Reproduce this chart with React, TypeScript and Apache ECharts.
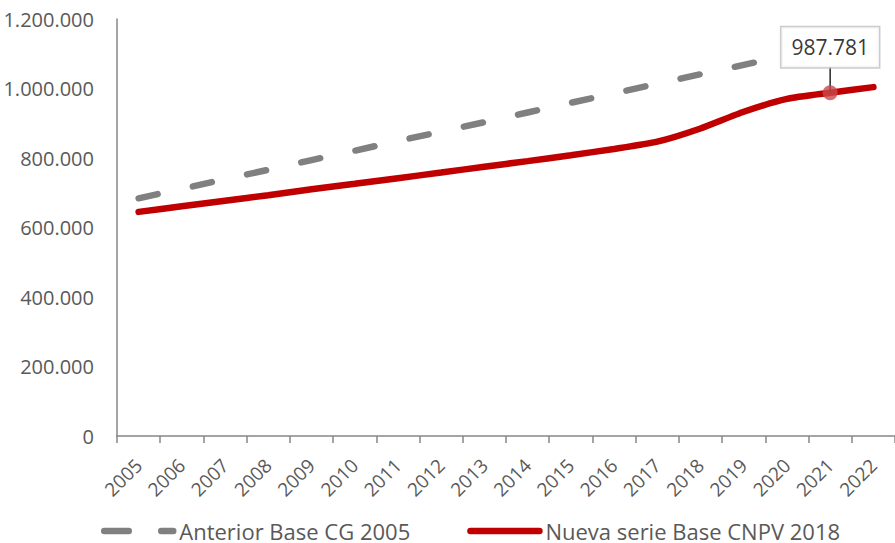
import React, { useEffect, useRef } from "react";
import * as echarts from "echarts";

const years = ["2005","2006","2007","2008","2009","2010","2011","2012","2013","2014","2015","2016","2017","2018","2019","2020","2021","2022"];
const anteriorValues = [684000, 711000, 739000, 766000, 794000, 821000, 849000, 876000, 903000, 931000, 959000, 986000, 1014000, 1041000, 1068000, 1095000, null, null];
const nuevaValues = [645000, 661000, 677000, 693000, 710000, 726000, 742000, 758000, 775000, 791000, 808000, 826000, 847000, 885000, 933000, 970000, 987781, 1004000];
const highlightIndex = 16;
const yTicks = [0, 200000, 400000, 600000, 800000, 1000000, 1200000];

const fmt = (v: number) => String(Math.round(v)).replace(/\B(?=(\d{3})+(?!\d))/g, ".");

export default function App() {
  const ref = useRef<HTMLDivElement>(null);
  useEffect(() => {
    if (!ref.current) return;
    const chart = echarts.init(ref.current, null, { renderer: "svg" });
    const font = "'Open Sans', sans-serif";
    const highlightData = years.map((_, i) => (i === highlightIndex ? nuevaValues[i] : null));
    chart.setOption({
      animation: false,
      textStyle: { fontFamily: font },
      grid: { left: 117, right: 0, top: 19, bottom: 107, containLabel: false },
      legend: {
        left: 101,
        top: 520,
        padding: 0,
        itemWidth: 69,
        itemHeight: 14,
        itemGap: 57,
        textStyle: { fontSize: 22, lineHeight: 22, color: "#595959", fontFamily: font, padding: [0, 0, 0, 1] },
        data: [
          { name: "Anterior Base CG 2005", itemStyle: { opacity: 0, color: "transparent" }, lineStyle: { width: 6.5, type: [24.5, 32.5], cap: "round", color: "#808080" } },
          { name: "Nueva serie Base CNPV 2018", itemStyle: { opacity: 0, color: "transparent" }, lineStyle: { width: 6.5, cap: "round", color: "#C00000" } },
        ],
      },
      xAxis: {
        type: "category",
        data: years,
        boundaryGap: true,
        axisLine: { lineStyle: { color: "#878787", width: 1.5 } },
        axisTick: { show: true, length: 7, lineStyle: { color: "#878787", width: 1.5 } },
        axisLabel: { rotate: 45, fontSize: 19, color: "#595959", margin: 26, interval: 0, fontFamily: font },
      },
      yAxis: {
        type: "value",
        min: 0,
        max: 1200000,
        interval: 200000,
        axisLine: { show: true, lineStyle: { color: "#878787", width: 1.5 } },
        axisTick: { show: false },
        splitLine: { show: false },
        axisLabel: { fontSize: 20, color: "#595959", margin: 23, fontFamily: font, formatter: (v: number) => (yTicks.includes(v) ? fmt(v) : "") },
      },
      series: [
        {
          name: "Anterior Base CG 2005",
          type: "line",
          data: anteriorValues,
          symbol: "none",
          lineStyle: { color: "#808080", width: 6.5, type: [19.5, 36], cap: "round" },
          itemStyle: { color: "#808080" },
          z: 2,
        },
        {
          name: "Nueva serie Base CNPV 2018",
          type: "line",
          data: nuevaValues,
          symbol: "none",
          smooth: 0.2,
          lineStyle: { color: "#C00000", width: 6.5, cap: "round" },
          itemStyle: { color: "#C00000" },
          z: 3,
        },
        {
          name: "leader",
          type: "scatter",
          data: highlightData,
          symbol: "rect",
          symbolSize: [1.6, 26],
          symbolOffset: [0, -13],
          itemStyle: { color: "#000000" },
          silent: true,
          z: 4,
        },
        {
          name: "highlight",
          type: "scatter",
          data: highlightData,
          symbol: "circle",
          symbolSize: 15,
          itemStyle: { color: "#C9484A" },
          label: {
            show: true,
            position: "top",
            distance: 18,
            formatter: (p: any) => fmt(p.value),
            fontSize: 21,
            lineHeight: 26,
            color: "#000000",
            fontFamily: font,
            backgroundColor: "#ffffff",
            borderColor: "#BFBFBF",
            borderWidth: 1.5,
            padding: [7, 10, 7, 10],
          },
          z: 5,
        },
      ],
    });
    return () => chart.dispose();
  }, []);
  return <div ref={ref} style={{ width: 895, height: 543, position: "absolute", left: 0, top: 0 }} />;
}
